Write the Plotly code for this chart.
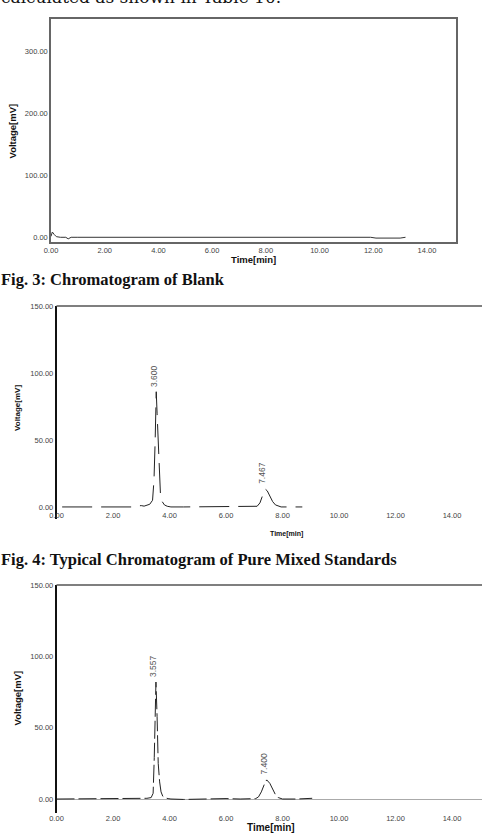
import plotly.graph_objects as go

# ---------------- data ----------------
# Fig. 3 blank chromatogram
blank_time = [0.0, 0.05, 0.12, 0.2, 0.35, 0.55, 0.64, 0.75, 1.0, 2.0, 4.0, 6.0, 8.0, 10.0, 11.9, 12.1, 12.6, 13.0, 13.2]
blank_mv = [1.0, 8.0, 4.0, 0.5, -0.5, -0.5, -3.0, -0.5, -0.5, -0.5, -0.5, -0.5, -0.5, -0.5, -0.5, -1.8, -1.8, -1.8, -0.5]

# Fig. 4 pure mixed standards
std_time = [0.2, 1.0, 2.0, 2.8, 2.9, 3.0, 3.1, 3.2, 3.3, 3.4, 3.45, 3.49, 3.53, 3.56, 3.60, 3.64, 3.68, 3.74, 3.82, 3.92, 4.05,
            4.5, 5.5, 6.5, 7.0, 7.1, 7.2, 7.3, 7.38, 7.46, 7.55, 7.65, 7.75, 7.85, 7.95, 8.3, 8.7]
std_mv = [0.0, 0.0, 0.0, 0.0, 0.8, 1.0, 0.6, 1.2, 2.0, 5.0, 20.0, 48.0, 86.0, 70.0, 48.0, 22.0, 9.0, 4.0, 1.5, 0.5, 0.0,
          0.0, 0.0, 0.0, 0.0, 0.5, 3.0, 9.0, 13.5, 12.0, 8.0, 4.0, 1.5, 0.5, 0.0, 0.0, 0.0]
std_peak_time = [3.53, 7.38]
std_peak_mv = [86.0, 13.5]
std_peak_label = ["3.600", "7.467"]

# Fig. 5 sample
smp_time = [0.0, 1.0, 1.5, 2.0, 2.5, 3.0, 3.2, 3.35, 3.42, 3.46, 3.52, 3.56, 3.60, 3.65, 3.70, 3.76, 3.84, 3.95, 4.05, 4.5, 5.0,
            6.0, 6.5, 6.9, 7.05, 7.15, 7.25, 7.35, 7.44, 7.55, 7.65, 7.75, 7.85, 8.0, 8.5, 9.05]
smp_mv = [0.0, 0.0, 0.5, 0.0, 0.0, 0.3, 0.5, 1.0, 4.0, 29.0, 82.0, 58.0, 25.0, 12.0, 5.0, 2.0, 0.8, 0.3, 0.0, -0.3, 0.0,
          0.3, 0.0, 0.0, 0.3, 1.5, 5.0, 10.0, 13.4, 11.0, 7.0, 3.0, 1.0, 0.0, 0.0, 0.5]
smp_peak_time = [3.52, 7.44]
smp_peak_mv = [82.0, 13.4]
smp_peak_label = ["3.557", "7.400"]

x_ticks = [0, 2, 4, 6, 8, 10, 12, 14]
blank_y_ticks = [0, 100, 200, 300]
std_y_ticks = [0, 50, 100, 150]

caption_top = "calculated as shown in Table 10."
caption_fig3 = "Fig. 3: Chromatogram of Blank"
caption_fig4 = "Fig. 4: Typical Chromatogram of Pure Mixed Standards"

# ---------------- layout helpers ----------------
W, H = 487, 838
def fx(px):
    return px / W
def fy(py):
    return 1 - py / H

tick_font = dict(family="Liberation Sans, Arial", size=7.5, color="#444")
title_font = dict(family="Liberation Sans, Arial", size=9.5, color="#111")
cap_font = dict(family="Liberation Serif, Times New Roman, serif", size=16.5, color="#111")

fig = go.Figure()
fig.add_trace(go.Scatter(x=blank_time, y=blank_mv, mode="lines", xaxis="x", yaxis="y",
                         line=dict(color="#333", width=1), hoverinfo="skip"))
fig.add_trace(go.Scatter(x=std_time, y=std_mv, mode="lines", xaxis="x2", yaxis="y2",
                         line=dict(color="#222", width=1, dash="30px,9px"), hoverinfo="skip"))
fig.add_trace(go.Scatter(x=smp_time, y=smp_mv, mode="lines", xaxis="x3", yaxis="y3",
                         line=dict(color="#222", width=1, dash="18px,4px"), hoverinfo="skip"))

def xax(domain, rng, **kw):
    d = dict(domain=domain, range=rng, tickmode="array", tickvals=x_ticks,
             ticktext=[f"{v:.2f}" for v in x_ticks], showgrid=False, zeroline=False,
             ticks="", ticklen=0, tickfont=tick_font, fixedrange=True, automargin=False)
    d.update(kw)
    return d

def yax(domain, rng, ticks, **kw):
    d = dict(domain=domain, range=rng, tickmode="array", tickvals=ticks,
             ticktext=[f"{v:.2f}" for v in ticks], showgrid=False, zeroline=False,
             ticks="", ticklen=0, tickfont=tick_font, fixedrange=True, automargin=False)
    d.update(kw)
    return d

fig.update_layout(
    width=W, height=H, margin=dict(l=0, r=0, t=0, b=0, autoexpand=False),
    paper_bgcolor="white", plot_bgcolor="white", showlegend=False,
    xaxis=xax([fx(51), fx(456)], [0, 15.08], anchor="y", showline=True, mirror=True,
              linecolor="#666", linewidth=1.5),
    yaxis=yax([fy(242), fy(19)], [-8.1, 351.6], blank_y_ticks, anchor="x", showline=True,
              mirror=True, linecolor="#666", linewidth=1.5),
    xaxis2=xax([fx(56.5), fx(482)], [0, 15.06], anchor="free", position=fy(509), showline=False),
    yaxis2=yax([fy(519), fy(306)], [-9.0, 150], std_y_ticks, anchor="x2", showline=True,
               linecolor="#111", linewidth=1.5),
    xaxis3=xax([fx(56.5), fx(482)], [0, 15.06], anchor="free", position=fy(812), showline=False),
    yaxis3=yax([fy(813), fy(585)], [-9.8, 150], std_y_ticks, anchor="x3", showline=True,
               linecolor="#111", linewidth=1.5, zeroline=True, zerolinecolor="#aaa", zerolinewidth=1),
)

# top border lines for panels 2 and 3
for xa, ya in (("x2", "y2"), ("x3", "y3")):
    fig.add_shape(type="line", xref=f"{xa} domain", yref=f"{ya} domain", x0=0, x1=1, y0=1, y1=1,
                  line=dict(color="#555", width=1.5), layer="above")

ann = []
label_font = dict(family="Liberation Sans, Arial", size=8.5, color="#555")
# peak labels
for t, v, s in zip(std_peak_time, std_peak_mv, std_peak_label):
    ann.append(dict(x=t, y=v, xref="x2", yref="y2", text=s, showarrow=False, textangle=-90,
                    xanchor="center", yanchor="bottom", xshift=-3, yshift=3, font=label_font))
for t, v, s in zip(smp_peak_time, smp_peak_mv, smp_peak_label):
    ann.append(dict(x=t, y=v, xref="x3", yref="y3", text=s, showarrow=False, textangle=-90,
                    xanchor="center", yanchor="bottom", xshift=-3, yshift=3, font=label_font))

# axis titles
def ytitle(px, py, size):
    return dict(x=fx(px), y=fy(py), xref="paper", yref="paper", text="<b>Voltage[mV]</b>",
                showarrow=False, textangle=-90, xanchor="center", yanchor="middle",
                font=dict(title_font, size=size))
def xtitle(px, py, size):
    return dict(x=fx(px), y=fy(py), xref="paper", yref="paper", text="<b>Time[min]</b>",
                showarrow=False, xanchor="center", yanchor="middle",
                font=dict(title_font, size=size))
ann += [ytitle(12.5, 131, 9.5), ytitle(17, 408, 8), ytitle(16.5, 698, 9.5),
        xtitle(254, 259, 9.5), xtitle(286, 534, 7), xtitle(271, 827, 10)]

# captions
ann.append(dict(x=fx(-1), y=fy(9), xref="paper", yref="paper", text=caption_top, showarrow=False,
                xanchor="left", yanchor="bottom",
                font=dict(family="DejaVu Serif, serif", size=17, color="#111")))
ann.append(dict(x=fx(-1), y=fy(279), xref="paper", yref="paper", text=f"<b>{caption_fig3}</b>",
                showarrow=False, xanchor="left", yanchor="middle", font=cap_font))
ann.append(dict(x=fx(-1), y=fy(559), xref="paper", yref="paper", text=f"<b>{caption_fig4}</b>",
                showarrow=False, xanchor="left", yanchor="middle", font=cap_font))

fig.update_layout(annotations=ann)
fig.write_html("out.html")
